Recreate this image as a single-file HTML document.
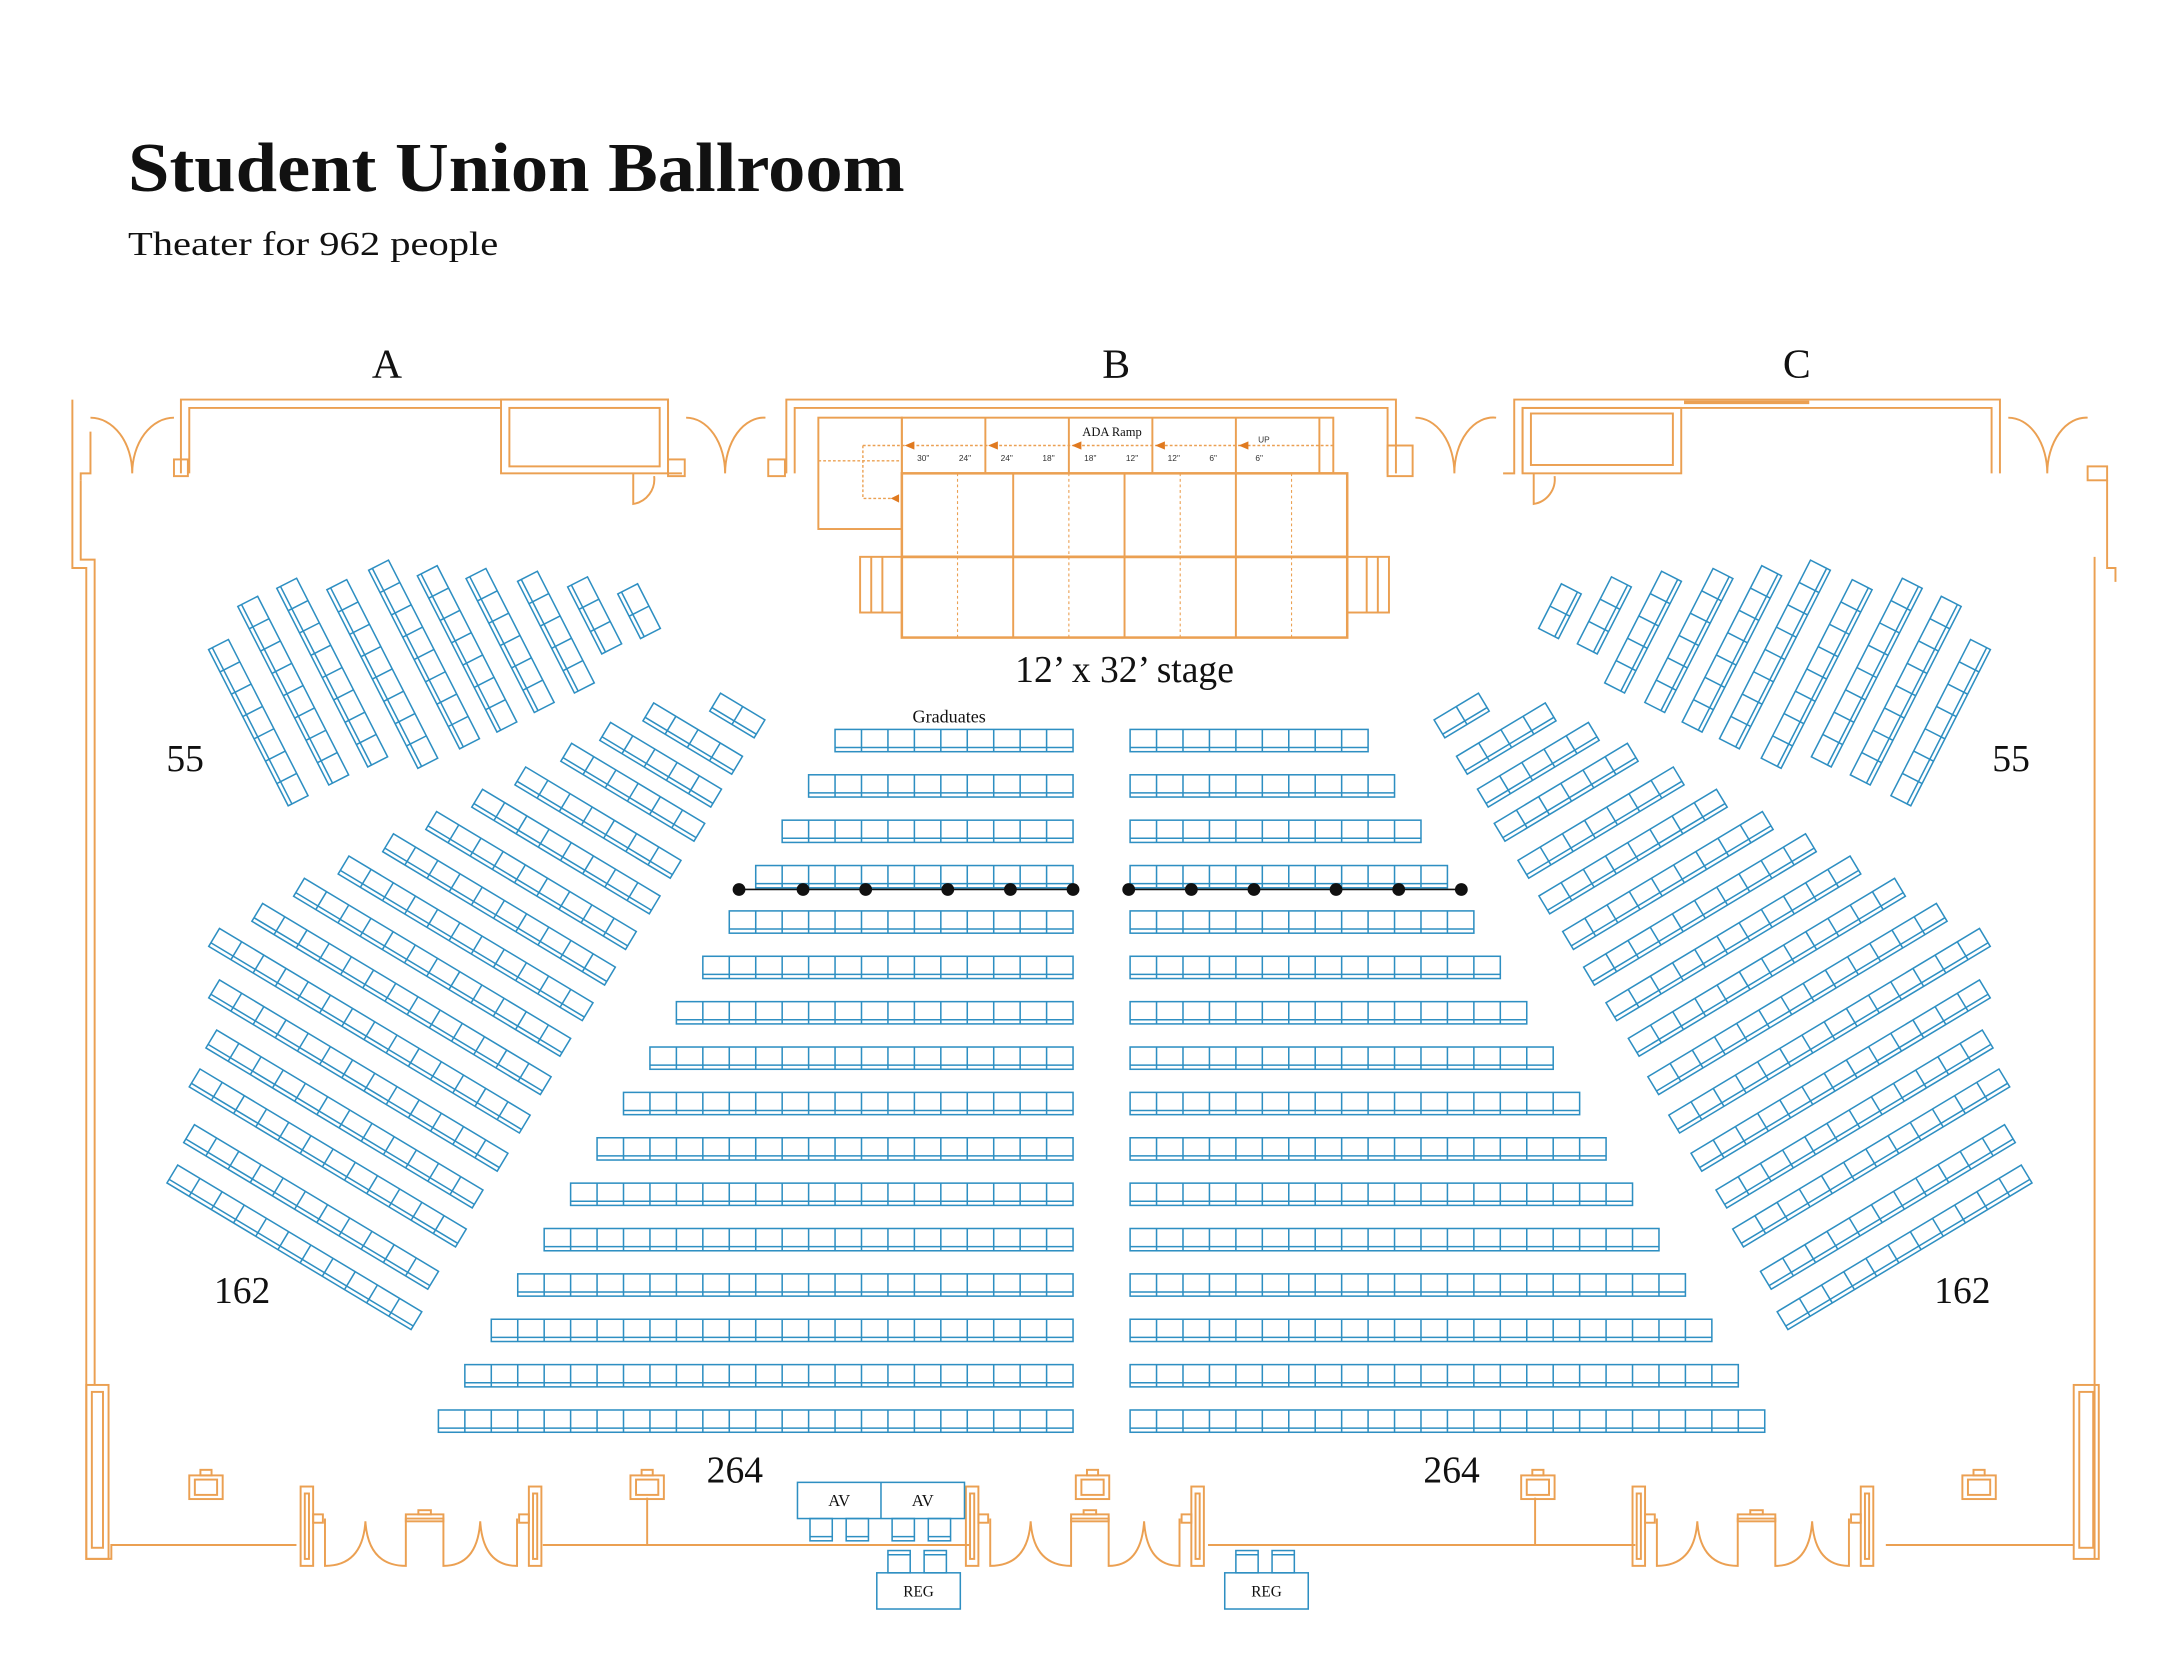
<!DOCTYPE html>
<html><head><meta charset="utf-8"><style>
html,body{margin:0;padding:0;background:#fff;width:2160px;height:1669px;overflow:hidden}
svg{display:block}
</style></head><body>
<svg id="s" xmlns="http://www.w3.org/2000/svg" width="2160" height="1669" viewBox="0 0 1552 1199">
<g font-family="'Liberation Serif', serif" fill="#111">
<text x="92" y="137" font-size="50" font-weight="bold" textLength="558" lengthAdjust="spacingAndGlyphs">Student Union Ballroom</text>
<text x="92" y="183" font-size="24" textLength="266" lengthAdjust="spacingAndGlyphs">Theater for 962 people</text>
<text x="278" y="271" font-size="30" text-anchor="middle">A</text>
<text x="802" y="271" font-size="30" text-anchor="middle">B</text>
<text x="1291" y="271" font-size="30" text-anchor="middle">C</text>
<text x="133" y="554" font-size="27" text-anchor="middle">55</text>
<text x="1445" y="554" font-size="27" text-anchor="middle">55</text>
<text x="174" y="936" font-size="27" text-anchor="middle">162</text>
<text x="1410" y="936" font-size="27" text-anchor="middle">162</text>
<text x="528" y="1065" font-size="27" text-anchor="middle">264</text>
<text x="1043" y="1065" font-size="27" text-anchor="middle">264</text>
<text x="808" y="490" font-size="27" text-anchor="middle">12’ x 32’ stage</text>
<text x="682" y="519" font-size="13" text-anchor="middle">Graduates</text>
<text x="799" y="313" font-size="9" text-anchor="middle">ADA Ramp</text>
</g>
<g id="walls" fill="none" stroke="#eba052" stroke-width="1.4">
<polyline points="52,287 52,408 62,408 62,1120 80,1120 80,1110 213,1110"/>
<polyline points="58,345 58,402 68,402 68,995"/>
<rect x="62" y="995" width="16" height="125"/>
<rect x="66" y="1000" width="8" height="112"/>
<polyline points="58,345 58,340 65,340 65,310"/>
<polyline points="130,340 130,287 480,287 480,340 490,340"/>
<polyline points="136,340 136,293 360,293"/>
<rect x="360" y="287" width="120" height="53"/>
<rect x="366" y="293" width="108" height="42"/>
<path d="M455,340 L455,362 A18,18 0 0 0 470,342"/>
<path d="M65,300 A30,40 0 0 1 95,340 M125,300 A30,40 0 0 0 95,340"/>
<path d="M493,300 A28,40 0 0 1 521,340 M550,300 A28,40 0 0 0 521,340"/>
<rect x="125" y="330" width="10" height="12"/><rect x="480" y="330" width="12" height="12"/><rect x="552" y="330" width="12" height="12"/>
<polyline points="565,340 565,287 1003,287 1003,340"/>
<polyline points="571,340 571,293 997,293 997,340"/>
<rect x="997" y="320" width="18" height="22"/>
<path d="M1017,300 A28,40 0 0 1 1045,340 M1075,300 A28,40 0 0 0 1045,340"/>
<polyline points="1080,340 1088,340 1088,287 1437,287 1437,340"/>
<polyline points="1094,340 1094,293 1431,293 1431,340"/>
<rect x="1094" y="293" width="114" height="47"/>
<rect x="1100" y="297" width="102" height="37"/>
<line x1="1210" y1="289" x2="1300" y2="289" stroke-width="2.5"/>
<path d="M1102,340 L1102,362 A18,18 0 0 0 1117,342"/>
<path d="M1443,300 A28,40 0 0 1 1471,340 M1500,300 A28,40 0 0 0 1471,340"/>
<rect x="1500" y="335" width="14" height="10"/>
<polyline points="1514,345 1514,408 1520,408 1520,418"/>
<line x1="1505" y1="400" x2="1505" y2="1120"/>
<rect x="1490" y="995" width="18" height="125"/>
<rect x="1494" y="1000" width="10" height="112"/>
<g id="doors"></g>
<line x1="390" y1="1110" x2="697" y2="1110"/>
<line x1="868" y1="1110" x2="1175" y2="1110"/>
<line x1="1355" y1="1110" x2="1490" y2="1110"/>
<g id="outs"></g>
<line x1="465" y1="1076" x2="465" y2="1110"/><line x1="1103" y1="1076" x2="1103" y2="1110"/>
<rect x="588" y="300" width="60" height="80"/>
<rect x="648" y="300" width="310" height="40"/>
<line x1="948" y1="300" x2="948" y2="340"/>
<line x1="708" y1="300" x2="708" y2="340"/><line x1="768" y1="300" x2="768" y2="340"/><line x1="828" y1="300" x2="828" y2="340"/><line x1="888" y1="300" x2="888" y2="340"/>
<line x1="620" y1="320" x2="958" y2="320" stroke-dasharray="2,1.5" stroke-width="1"/>
<polyline points="620,320 620,358 645,358" stroke-dasharray="2,1.5" stroke-width="1"/>
<line x1="588" y1="331" x2="648" y2="331" stroke-dasharray="2,1.5" stroke-width="1"/>
<rect x="648" y="340" width="320" height="118" stroke-width="1.8"/>
<line x1="648" y1="400" x2="968" y2="400" stroke-width="2"/>
<line x1="728" y1="340" x2="728" y2="458"/><line x1="808" y1="340" x2="808" y2="458"/><line x1="888" y1="340" x2="888" y2="458"/>
<g stroke-dasharray="2,2" stroke-width="0.8"><line x1="688" y1="340" x2="688" y2="458"/><line x1="768" y1="340" x2="768" y2="458"/><line x1="848" y1="340" x2="848" y2="458"/><line x1="928" y1="340" x2="928" y2="458"/></g>
<rect x="618" y="400" width="30" height="40"/><line x1="626" y1="400" x2="626" y2="440"/><line x1="634" y1="400" x2="634" y2="440"/>
<rect x="968" y="400" width="30" height="40"/><line x1="982" y1="400" x2="982" y2="440"/><line x1="990" y1="400" x2="990" y2="440"/>
</g>
<g fill="#e07a20" font-family="'Liberation Sans',sans-serif" font-size="6">
<path d="M650,320 l7,-3 v6z M710,320 l7,-3 v6z M770,320 l7,-3 v6z M830,320 l7,-3 v6z M890,320 l7,-3 v6z M640,358 l6,-3 v6z"/>
<g fill="#333"><text x="659" y="331">30"</text><text x="689" y="331">24"</text><text x="719" y="331">24"</text><text x="749" y="331">18"</text><text x="779" y="331">18"</text><text x="809" y="331">12"</text><text x="839" y="331">12"</text><text x="869" y="331">6"</text><text x="902" y="331">6"</text><text x="904" y="318">UP</text></g>
</g>
<g id="seats" fill="none" stroke="#2e8fc2" stroke-width="1.1"></g>
<g id="dots" stroke="#111" stroke-width="1.2" fill="#111"></g>
<g fill="none" stroke="#2e8fc2" stroke-width="1.1" font-family="'Liberation Serif',serif" font-size="12">
<rect x="573" y="1065" width="120" height="26"/><line x1="633" y1="1065" x2="633" y2="1091"/>
<rect x="582" y="1091" width="16" height="16"/><rect x="608" y="1091" width="16" height="16"/><rect x="641" y="1091" width="16" height="16"/><rect x="667" y="1091" width="16" height="16"/>
<line x1="582" y1="1104" x2="598" y2="1104"/><line x1="608" y1="1104" x2="624" y2="1104"/><line x1="641" y1="1104" x2="657" y2="1104"/><line x1="667" y1="1104" x2="683" y2="1104"/>
<rect x="630" y="1130" width="60" height="26"/><rect x="638" y="1114" width="16" height="16"/><rect x="664" y="1114" width="16" height="16"/>
<rect x="880" y="1130" width="60" height="26"/><rect x="888" y="1114" width="16" height="16"/><rect x="914" y="1114" width="16" height="16"/>
<line x1="638" y1="1117" x2="654" y2="1117"/><line x1="664" y1="1117" x2="680" y2="1117"/><line x1="888" y1="1117" x2="904" y2="1117"/><line x1="914" y1="1117" x2="930" y2="1117"/>
<g fill="#111" stroke="none"><text x="603" y="1082" text-anchor="middle">AV</text><text x="663" y="1082" text-anchor="middle">AV</text><text x="660" y="1147" text-anchor="middle" font-size="11">REG</text><text x="910" y="1147" text-anchor="middle" font-size="11">REG</text></g>
</g>
</svg>
<script>
var NS="http://www.w3.org/2000/svg";
function el(p,t,a){var e=document.createElementNS(NS,t);for(var k in a)e.setAttribute(k,a[k]);p.appendChild(e);return e;}
var S=document.getElementById('seats');
function row(g,x,y,n,s,h){
 el(g,'rect',{x:x,y:y,width:n*s,height:h});
 for(var i=1;i<n;i++)el(g,'line',{x1:x+i*s,y1:y,x2:x+i*s,y2:y+h});
 el(g,'line',{x1:x,y1:y+h-3,x2:x+n*s,y2:y+h-3});
}
for(var i=0;i<16;i++){var y=524+i*32.6,n=9+i;row(S,771-n*19,y,n,19,16);row(S,812,y,n,19,16);}
function sides(g){
 var L=[[510,498,2],[462,505,4],[431,519,5],[403,534,6],[370,551,7],[339,567,8],[306,583,9],[275,599,10],[243,615,11],[211,631,12],[181,649,13],[150,667,14],[150,704,13],[148,740,12],[136,768,12],[132,808,11],[120,837,11]];
 L.forEach(function(r){var gg=el(g,'g',{transform:'translate('+(r[0]+7.7)+','+r[1]+') rotate(31)'});row(gg,0,0,r[2],18.6,15);});
 var C=[[157,463,7],[178,432,8],[206,419,8],[242,420,8],[272,406,8],[307,410,7],[342,412,6],[379,414,5],[415,418,3],[451,423,2]];
 C.forEach(function(c){var gg=el(g,'g',{transform:'translate('+c[0]+','+c[1]+') rotate(-27)'});
  var n=c[2],s=18;el(gg,'rect',{x:-8,y:0,width:16,height:n*s});
  for(var i=1;i<n;i++)el(gg,'line',{x1:-8,y1:i*s,x2:8,y2:i*s});
  el(gg,'line',{x1:-5,y1:0,x2:-5,y2:n*s});});
}
sides(el(S,'g',{}));
sides(el(S,'g',{transform:'translate(1580,0) scale(-1,1)'}));
var D=document.getElementById('dots');
el(D,'line',{x1:531,y1:639,x2:771,y2:639});el(D,'line',{x1:811,y1:639,x2:1050,y2:639});
[531,577,622,681,726,771,811,856,901,960,1005,1050].forEach(function(x){el(D,'circle',{cx:x,cy:639,r:4});});
var O=document.getElementById('outs');
[136,453,773,1093,1410].forEach(function(x){el(O,'rect',{x:x,y:1060,width:24,height:17});el(O,'rect',{x:x+4,y:1063,width:16,height:11});el(O,'rect',{x:x+8,y:1056,width:8,height:4});});
var DR=document.getElementById('doors');
[[216,173],[694,171],[1173,173]].forEach(function(d){
 var x=d[0],w=d[1],b=1125,t=1091,r=x+w;
 el(DR,'rect',{x:x,y:1068,width:9,height:57});el(DR,'rect',{x:x+3,y:1073,width:3,height:47});
 el(DR,'rect',{x:r-9,y:1068,width:9,height:57});el(DR,'rect',{x:r-6,y:1073,width:3,height:47});
 el(DR,'rect',{x:x+9,y:1088,width:7,height:6});el(DR,'rect',{x:r-16,y:1088,width:7,height:6});
 var a=x+17.5,c1=x+75.6,c2=c1+27,e=r-17.5,p1=(a+c1)/2,p2=(c2+e)/2;
 el(DR,'path',{d:'M'+a+','+t+' L'+a+','+b+' Q'+(p1-2)+','+b+' '+p1+','+(t+2)+' Q'+(p1+2)+','+b+' '+c1+','+b+' L'+c1+','+t+' L'+c2+','+t+' L'+c2+','+b+' Q'+(p2-2)+','+b+' '+p2+','+(t+2)+' Q'+(p2+2)+','+b+' '+e+','+b+' L'+e+','+t});
 el(DR,'rect',{x:c1,y:t-3,width:27,height:5});el(DR,'rect',{x:c1+9,y:t-6,width:9,height:3});
});
</script>
</body></html>
